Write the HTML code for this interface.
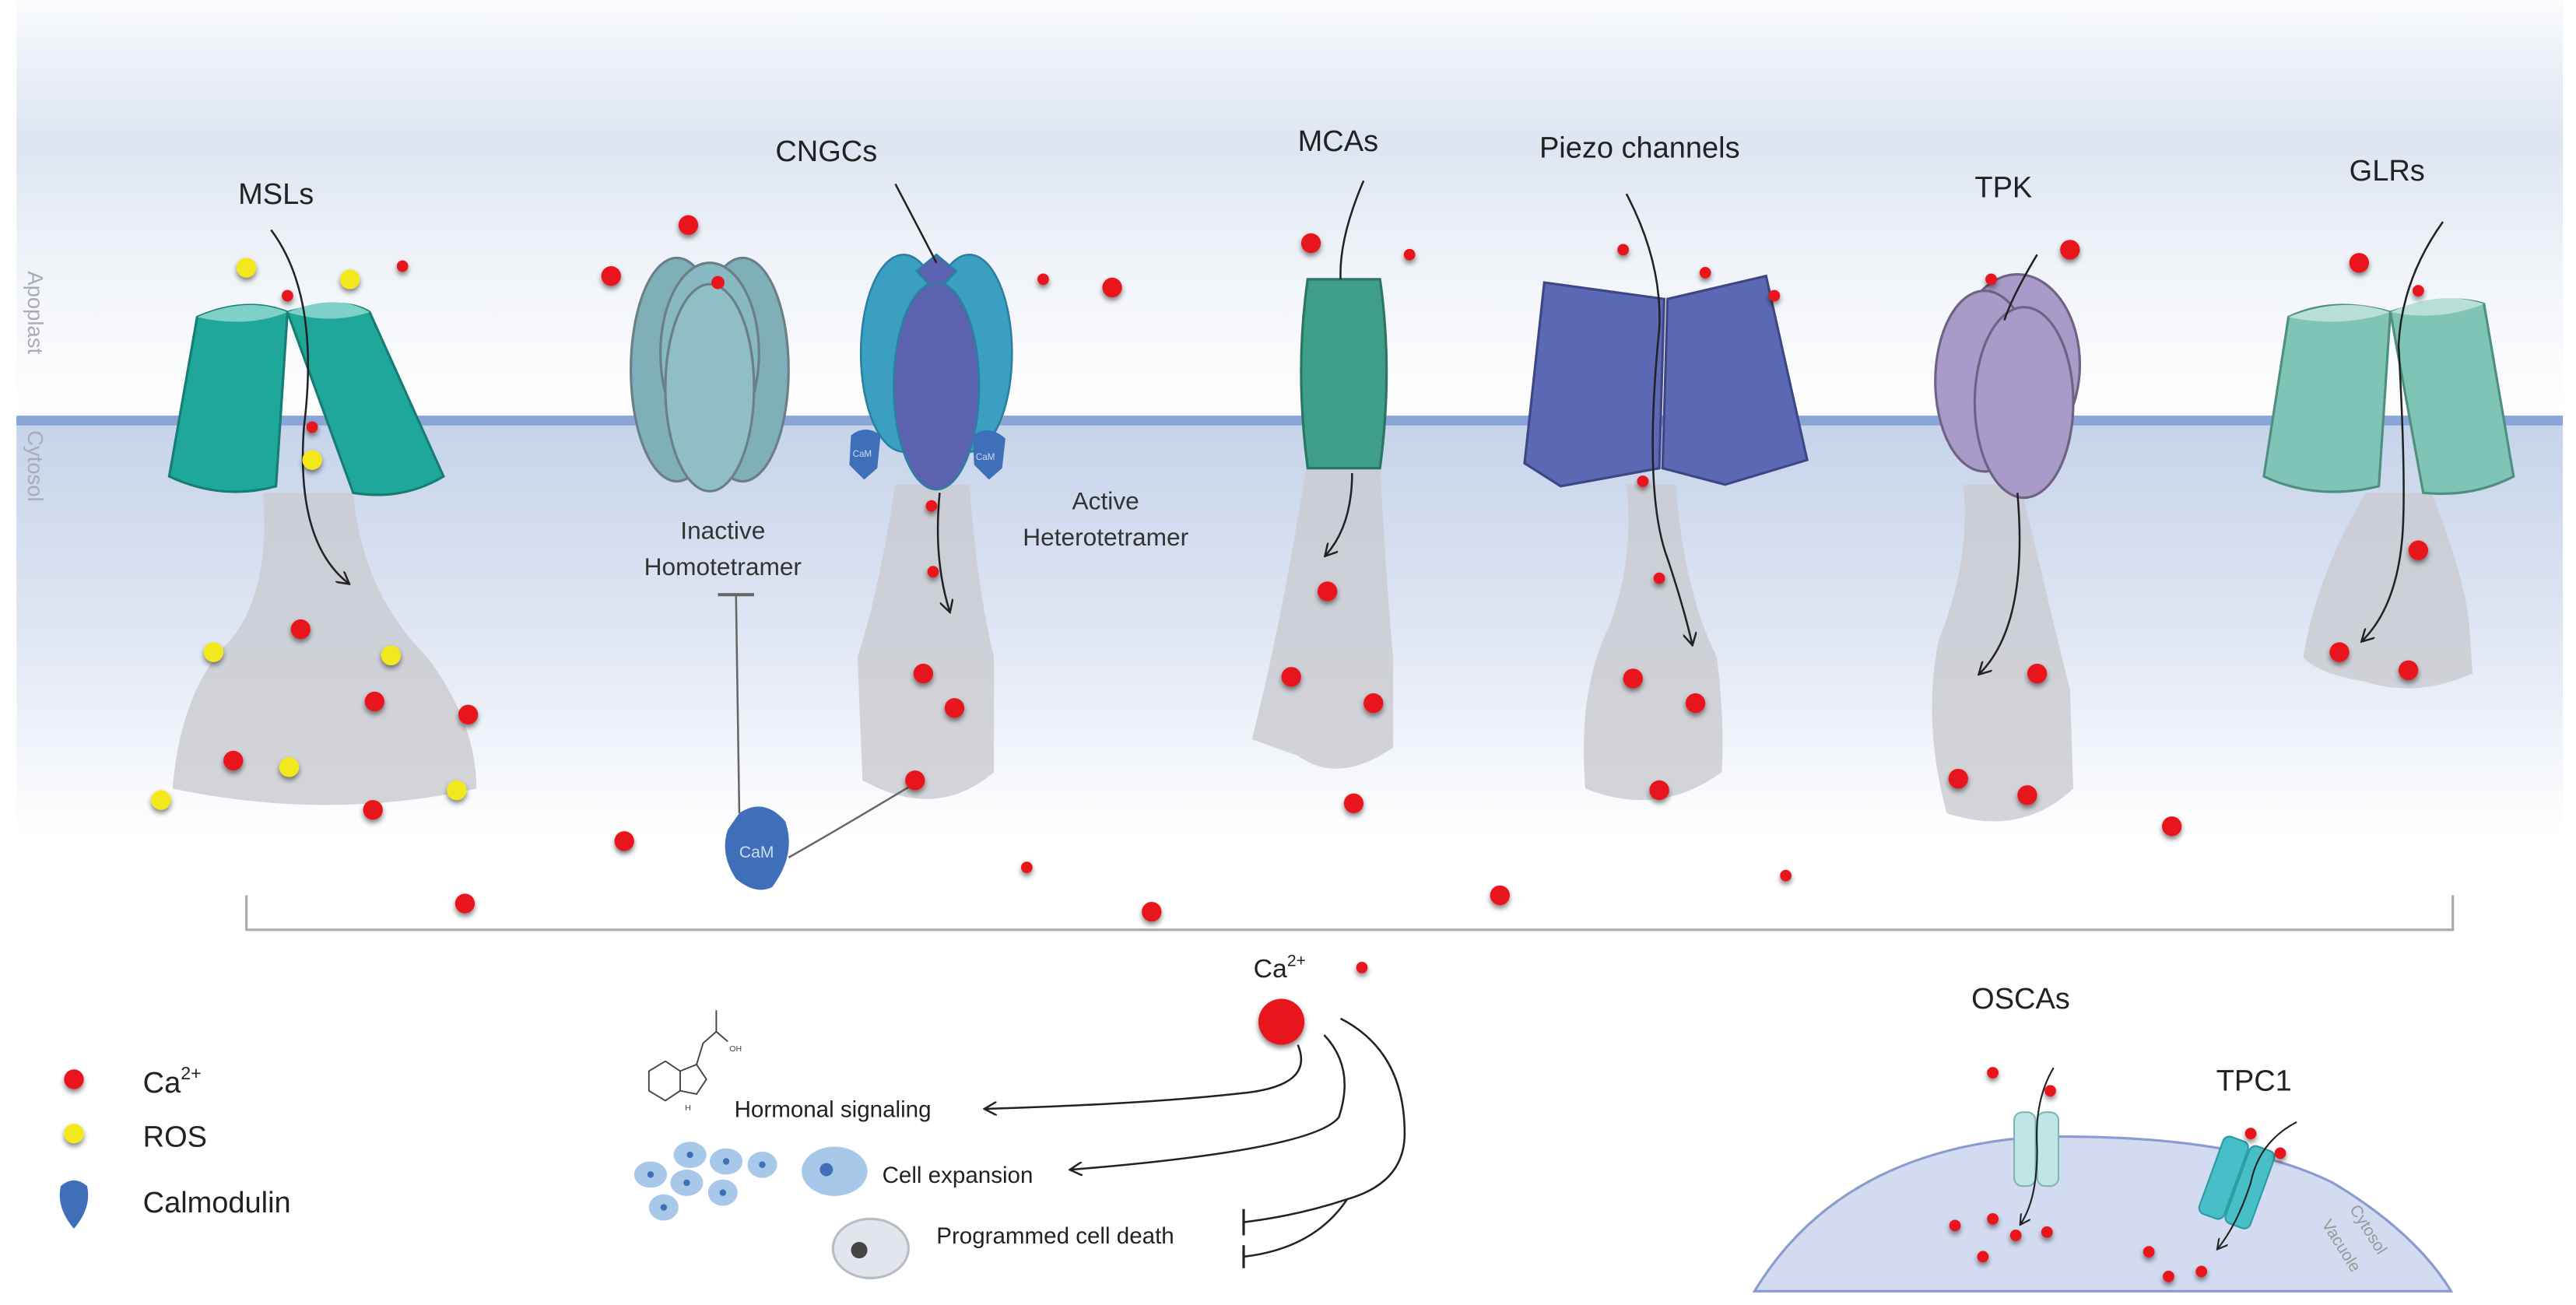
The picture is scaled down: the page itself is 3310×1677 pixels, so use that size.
<!DOCTYPE html>
<html><head><meta charset="utf-8"><style>
html,body{margin:0;padding:0;background:#fff;}
svg{display:block;}
text{font-family:"Liberation Sans",sans-serif;}
</style></head><body>
<svg width="3310" height="1677" viewBox="0 0 1568 794.4" preserveAspectRatio="none" xmlns="http://www.w3.org/2000/svg">
<defs>
<linearGradient id="bg" x1="0" y1="0" x2="0" y2="1">
<stop offset="0" stop-color="#fafbfd"/>
<stop offset="0.06" stop-color="#eef2f8"/>
<stop offset="0.17" stop-color="#dde5f1"/>
<stop offset="0.30" stop-color="#eef2f8"/>
<stop offset="0.47" stop-color="#fdfdfe"/>
<stop offset="0.50" stop-color="#fefefe"/>
<stop offset="0.505" stop-color="#c6d3ea"/>
<stop offset="0.75" stop-color="#dfe6f3"/>
<stop offset="1" stop-color="#ffffff"/>
</linearGradient>
<marker id="ar" viewBox="0 0 10 10" refX="8" refY="5" markerWidth="7" markerHeight="7" orient="auto"><path d="M0,0 L9,5 L0,10" fill="none" stroke="#222" stroke-width="1.4"/></marker>
<filter id="sh" x="-1" y="-1" width="3" height="3"><feGaussianBlur in="SourceAlpha" stdDeviation="1.6"/><feOffset dx="0" dy="2"/><feComponentTransfer><feFuncA type="linear" slope="0.5"/></feComponentTransfer><feMerge><feMergeNode/><feMergeNode in="SourceGraphic"/></feMerge></filter>
<g id="r"><circle r="6" fill="#e8151b" filter="url(#sh)"/></g>
<g id="rs"><circle r="3.5" fill="#e8151b" filter="url(#sh)"/></g>
<g id="y"><circle r="6" fill="#f2e81f" filter="url(#sh)"/></g>
</defs>
<rect x="10" y="0" width="1550" height="510" fill="url(#bg)"/>
<rect x="10" y="253" width="1550" height="6" fill="#8aa5d8"/>
<text transform="translate(17,165) rotate(90)" font-size="13" fill="#aab">Apoplast</text>
<text transform="translate(17,262) rotate(90)" font-size="13" fill="#aab">Cytosol</text>

<!-- funnels -->
<g fill="#c9cbd0" opacity="0.8">
<path d="M160,300 L215,300 Q220,360 260,400 Q290,440 290,480 Q200,500 105,480 Q110,420 140,390 Q165,360 160,300Z"/>
<path d="M545,295 L590,295 Q595,360 605,400 L605,470 Q570,500 525,475 L522,400 Q535,360 545,295Z"/>
<path d="M795,285 L840,285 Q845,370 848,400 L848,455 Q815,478 790,460 L762,450 Q780,380 795,285Z"/>
<path d="M990,295 L1020,295 Q1025,360 1045,400 Q1050,440 1048,470 Q1010,498 965,480 Q960,420 980,380 Q995,340 990,295Z"/>
<path d="M1195,295 L1230,295 Q1250,380 1260,420 L1262,480 Q1230,510 1185,495 Q1170,440 1180,390 Q1200,340 1195,295Z"/>
<path d="M1440,300 L1480,300 Q1500,350 1503,380 L1505,410 Q1470,425 1440,415 Q1410,410 1402,400 Q1410,350 1440,300Z"/>
</g>

<!-- MSLs -->
<text x="145" y="124" font-size="18" fill="#222">MSLs</text>
<path d="M120,193 Q150,180 175,190 L168,296 Q135,305 103,290 Z" fill="#1fa89a" stroke="#167d73" stroke-width="1.5"/>
<path d="M120,193 Q150,180 175,190 Q150,200 120,193Z" fill="#7fd0c7"/>
<path d="M175,190 Q210,180 225,190 L270,290 Q245,305 215,300 Z" fill="#1fa89a" stroke="#167d73" stroke-width="1.5"/>
<path d="M175,190 Q205,178 225,190 Q200,198 175,190Z" fill="#7fd0c7"/>
<path d="M165,140 Q195,180 185,260 Q180,330 212,355" fill="none" stroke="#222" stroke-width="1.2" marker-end="url(#ar)"/>

<!-- CNGCs -->
<text x="472" y="98" font-size="18" fill="#222">CNGCs</text>
<g stroke="#6a7f86" stroke-width="1.5">
<ellipse cx="412" cy="225" rx="28" ry="68" fill="#7fb0ba"/>
<ellipse cx="452" cy="225" rx="28" ry="68" fill="#7fb0ba"/>
<ellipse cx="432" cy="215" rx="30" ry="55" fill="#88b8c2"/>
<ellipse cx="432" cy="236" rx="27" ry="63" fill="#8fbec7"/>
</g>
<circle cx="437" cy="172" r="4" fill="#e8151b"/>
<g stroke="#2b7fa0" stroke-width="1.2">
<ellipse cx="550" cy="215" rx="26" ry="60" fill="#3a9fc0"/>
<ellipse cx="590" cy="215" rx="26" ry="60" fill="#3a9fc0"/>
<path d="M558,165 L570,155 L582,165 L570,178Z" fill="#5b62b0"/>
<ellipse cx="570" cy="235" rx="26" ry="63" fill="#5b62b0"/>
</g>
<path d="M518,265 Q527,258 536,265 L534,285 L526,292 L517,283Z" fill="#3f6fb8"/>
<path d="M592,265 Q602,258 612,267 L610,285 L602,292 L593,283Z" fill="#3f6fb8"/>
<text x="519" y="278" font-size="5.5" fill="#cde">CaM</text>
<text x="594" y="280" font-size="5.5" fill="#cde">CaM</text>
<path d="M545,112 Q565,150 570,160" fill="none" stroke="#222" stroke-width="1.2"/>
<path d="M572,300 Q568,340 578,372" fill="none" stroke="#222" stroke-width="1.2" marker-end="url(#ar)"/>
<text x="440" y="328" font-size="15" fill="#333" text-anchor="middle">Inactive</text>
<text x="440" y="350" font-size="15" fill="#333" text-anchor="middle">Homotetramer</text>
<text x="673" y="310" font-size="15" fill="#333" text-anchor="middle">Active</text>
<text x="673" y="332" font-size="15" fill="#333" text-anchor="middle">Heterotetramer</text>
<path d="M448,362 L450,495" stroke="#666" stroke-width="1.2"/>
<path d="M437,362 L459,362" stroke="#666" stroke-width="2"/>
<path d="M480,522 Q510,505 555,478" stroke="#666" stroke-width="1.2" fill="none"/>
<path d="M450,495 Q465,485 478,500 Q485,520 470,540 Q460,545 448,535 Q438,520 443,505Z" fill="#3f6fb8"/>
<text x="450" y="522" font-size="10" fill="#cde">CaM</text>

<!-- MCAs -->
<text x="790" y="92" font-size="18" fill="#222">MCAs</text>
<path d="M796,170 L840,170 Q848,225 840,285 L796,285 Q788,225 796,170Z" fill="#3f9e87" stroke="#2c7464" stroke-width="1.5"/>
<path d="M830,110 Q815,145 816,170" fill="none" stroke="#222" stroke-width="1.2"/>
<path d="M823,288 Q823,320 807,338" fill="none" stroke="#222" stroke-width="1.2" marker-end="url(#ar)"/>

<!-- Piezo -->
<text x="937" y="96" font-size="18" fill="#222">Piezo channels</text>
<path d="M940,172 L1013,182 L1010,285 L950,296 L928,282Z" fill="#5b68b3" stroke="#3e4785" stroke-width="1.5"/>
<path d="M1015,182 L1075,168 L1100,280 L1050,295 L1012,285Z" fill="#5b68b3" stroke="#3e4785" stroke-width="1.5"/>
<path d="M990,118 Q1012,160 1010,200 Q1000,300 1015,340 Q1025,370 1030,392" fill="none" stroke="#222" stroke-width="1.2" marker-end="url(#ar)"/>

<!-- TPK -->
<text x="1202" y="120" font-size="18" fill="#222">TPK</text>
<g stroke="#6e6385" stroke-width="1.5" fill="#a99bc9">
<ellipse cx="1228" cy="222" rx="38" ry="55"/>
<ellipse cx="1208" cy="232" rx="30" ry="55"/>
<ellipse cx="1232" cy="245" rx="30" ry="58"/>
</g>
<path d="M1240,155 Q1225,180 1220,195" fill="none" stroke="#222" stroke-width="1.2"/>
<path d="M1228,300 Q1235,380 1205,410" fill="none" stroke="#222" stroke-width="1.2" marker-end="url(#ar)"/>

<!-- GLRs -->
<text x="1430" y="110" font-size="18" fill="#222">GLRs</text>
<path d="M1393,193 Q1420,180 1455,190 L1448,296 Q1410,305 1378,290Z" fill="#7fc4b4" stroke="#4e9080" stroke-width="1.5"/>
<path d="M1393,193 Q1425,180 1455,190 Q1425,200 1393,193Z" fill="#b8e0d6"/>
<path d="M1455,190 Q1490,178 1512,185 L1530,290 Q1505,303 1475,300Z" fill="#7fc4b4" stroke="#4e9080" stroke-width="1.5"/>
<path d="M1455,190 Q1485,176 1512,185 Q1485,196 1455,190Z" fill="#b8e0d6"/>
<path d="M1487,135 Q1462,170 1460,210 Q1465,300 1462,330 Q1458,370 1438,390" fill="none" stroke="#222" stroke-width="1.2" marker-end="url(#ar)"/>

<!-- dots -->
<use href="#y" x="150" y="163"/><use href="#y" x="213" y="170"/><use href="#rs" x="245" y="162"/><use href="#rs" x="175" y="180"/>
<use href="#rs" x="190" y="260"/><use href="#y" x="190" y="280"/>
<use href="#r" x="183" y="383"/><use href="#y" x="130" y="397"/><use href="#y" x="238" y="399"/><use href="#r" x="228" y="427"/><use href="#r" x="285" y="435"/>
<use href="#r" x="142" y="463"/><use href="#y" x="176" y="467"/><use href="#y" x="278" y="481"/><use href="#y" x="98" y="487"/><use href="#r" x="227" y="493"/>
<use href="#r" x="419" y="137"/><use href="#r" x="372" y="168"/><use href="#rs" x="635" y="170"/><use href="#r" x="677" y="175"/>
<use href="#rs" x="567" y="308"/><use href="#rs" x="568" y="348"/><use href="#r" x="562" y="410"/><use href="#r" x="581" y="431"/><use href="#r" x="557" y="475"/>
<use href="#rs" x="380" y="512"/><use href="#r" x="380" y="512"/><use href="#r" x="283" y="550"/><use href="#rs" x="625" y="528"/><use href="#r" x="701" y="555"/>
<use href="#r" x="798" y="148"/><use href="#rs" x="858" y="155"/>
<use href="#r" x="808" y="360"/><use href="#r" x="786" y="412"/><use href="#r" x="836" y="428"/><use href="#r" x="824" y="489"/>
<use href="#rs" x="988" y="152"/><use href="#rs" x="1038" y="166"/><use href="#rs" x="1080" y="180"/><use href="#rs" x="1000" y="293"/><use href="#rs" x="1010" y="352"/>
<use href="#r" x="994" y="413"/><use href="#r" x="1032" y="428"/><use href="#r" x="1010" y="481"/>
<use href="#rs" x="1912" y="0"/><use href="#r" x="913" y="545"/><use href="#rs" x="1087" y="533"/>
<use href="#rs" x="1212" y="170"/><use href="#r" x="1260" y="152"/>
<use href="#r" x="1240" y="410"/><use href="#r" x="1192" y="474"/><use href="#r" x="1234" y="484"/><use href="#r" x="1322" y="503"/>
<use href="#r" x="1436" y="160"/><use href="#rs" x="1472" y="177"/><use href="#r" x="1472" y="335"/><use href="#r" x="1424" y="397"/><use href="#r" x="1466" y="408"/>

<!-- bracket -->
<path d="M150,545 L150,566 L1493,566 L1493,545" fill="none" stroke="#aaa" stroke-width="1.5"/>

<!-- bottom -->
<text x="763" y="595" font-size="16" fill="#222">Ca<tspan font-size="10" dy="-7">2+</tspan></text>
<use href="#rs" x="829" y="589"/>
<circle cx="780" cy="622" r="14" fill="#e8151b" filter="url(#sh)"/>
<path d="M790,636 Q800,660 760,665 Q700,672 600,675" fill="none" stroke="#222" stroke-width="1.2" marker-end="url(#ar)"/>
<path d="M806,630 Q825,650 815,680 Q800,700 652,712" fill="none" stroke="#222" stroke-width="1.2" marker-end="url(#ar)"/>
<path d="M816,620 Q855,640 855,690 Q855,720 820,730 Q790,740 757,744" fill="none" stroke="#222" stroke-width="1.2"/>
<path d="M757,736 L757,752" stroke="#222" stroke-width="1.5"/>
<path d="M820,730 Q800,760 757,765" fill="none" stroke="#222" stroke-width="1.2"/>
<path d="M757,758 L757,772" stroke="#222" stroke-width="1.5"/>
<text x="447" y="680" font-size="14" fill="#222">Hormonal signaling</text>
<text x="537" y="720" font-size="14" fill="#222">Cell expansion</text>
<text x="570" y="757" font-size="14" fill="#222">Programmed cell death</text>
<g fill="none" stroke="#444" stroke-width="0.9">
<path d="M395,652 L405,646 L414,652 L414,664 L405,670 L395,664Z"/><path d="M414,652 L424,648 L430,657 L424,666 L414,664"/><path d="M424,648 L428,635 L436,628 L436,615 M436,628 L443,634"/>
</g>
<text x="444" y="640" font-size="5" fill="#444">OH</text><text x="417" y="676" font-size="5" fill="#444">H</text>
<g fill="#a8c8ea"><ellipse cx="396" cy="715" rx="10" ry="8"/><ellipse cx="420" cy="703" rx="10" ry="8"/><ellipse cx="418" cy="720" rx="10" ry="8"/><ellipse cx="442" cy="707" rx="10" ry="8"/><ellipse cx="464" cy="709" rx="9" ry="8"/><ellipse cx="440" cy="726" rx="9" ry="8"/><ellipse cx="404" cy="735" rx="9" ry="8"/><ellipse cx="508" cy="713" rx="20" ry="15"/></g>
<g fill="#3f6fb8"><circle cx="396" cy="715" r="2"/><circle cx="420" cy="703" r="2"/><circle cx="418" cy="720" r="2"/><circle cx="442" cy="707" r="2"/><circle cx="464" cy="709" r="2"/><circle cx="440" cy="726" r="2"/><circle cx="404" cy="735" r="2"/><circle cx="503" cy="712" r="4"/></g>
<ellipse cx="530" cy="760" rx="23" ry="18" fill="#e3e5ec" stroke="#b9bcc6" stroke-width="1.5"/><circle cx="523" cy="761" r="5" fill="#444"/>

<!-- legend -->
<use href="#r" x="45" y="657"/><text x="87" y="665" font-size="18" fill="#222">Ca<tspan font-size="11" dy="-8">2+</tspan></text>
<use href="#y" x="45" y="690"/><text x="87" y="698" font-size="18" fill="#222">ROS</text>
<path d="M37,722 Q45,715 53,722 Q56,735 45,748 Q34,735 37,722Z" fill="#3f6fb8"/>
<text x="87" y="738" font-size="18" fill="#222">Calmodulin</text>

<!-- vacuole -->
<path d="M1068,786 Q1120,700 1240,692 Q1360,690 1420,720 Q1470,750 1492,786Z" fill="#d3dbf0" stroke="#8a9bd0" stroke-width="1.5"/>
<text x="1200" y="614" font-size="18" fill="#222">OSCAs</text>
<text x="1349" y="664" font-size="18" fill="#222">TPC1</text>
<rect x="1226" y="677" width="13" height="45" rx="5" fill="#bfe5e4" stroke="#79b8b8"/>
<rect x="1240" y="677" width="13" height="45" rx="5" fill="#bfe5e4" stroke="#79b8b8"/>
<path d="M1250,650 Q1238,670 1240,700 Q1240,730 1230,745" fill="none" stroke="#222" stroke-width="1" marker-end="url(#ar)"/>
<g transform="rotate(20 1362 720)"><rect x="1345" y="695" width="16" height="50" rx="4" fill="#47bfc9" stroke="#2a9aa4"/><rect x="1362" y="695" width="16" height="50" rx="4" fill="#47bfc9" stroke="#2a9aa4"/></g>
<path d="M1398,683 Q1375,695 1370,720 Q1362,745 1350,760" fill="none" stroke="#222" stroke-width="1" marker-end="url(#ar)"/>
<use href="#rs" x="1213" y="653"/><use href="#rs" x="1248" y="664"/><use href="#rs" x="1370" y="690"/><use href="#rs" x="1388" y="702"/>
<use href="#rs" x="1190" y="746"/><use href="#rs" x="1213" y="742"/><use href="#rs" x="1227" y="752"/><use href="#rs" x="1246" y="750"/><use href="#rs" x="1207" y="765"/>
<use href="#rs" x="1308" y="762"/><use href="#rs" x="1320" y="777"/><use href="#rs" x="1340" y="774"/>
<text transform="translate(1430,736) rotate(58)" font-size="10" fill="#999">Cytosol</text>
<text transform="translate(1413,745) rotate(58)" font-size="10" fill="#999">Vacuole</text>
</svg>
</body></html>
